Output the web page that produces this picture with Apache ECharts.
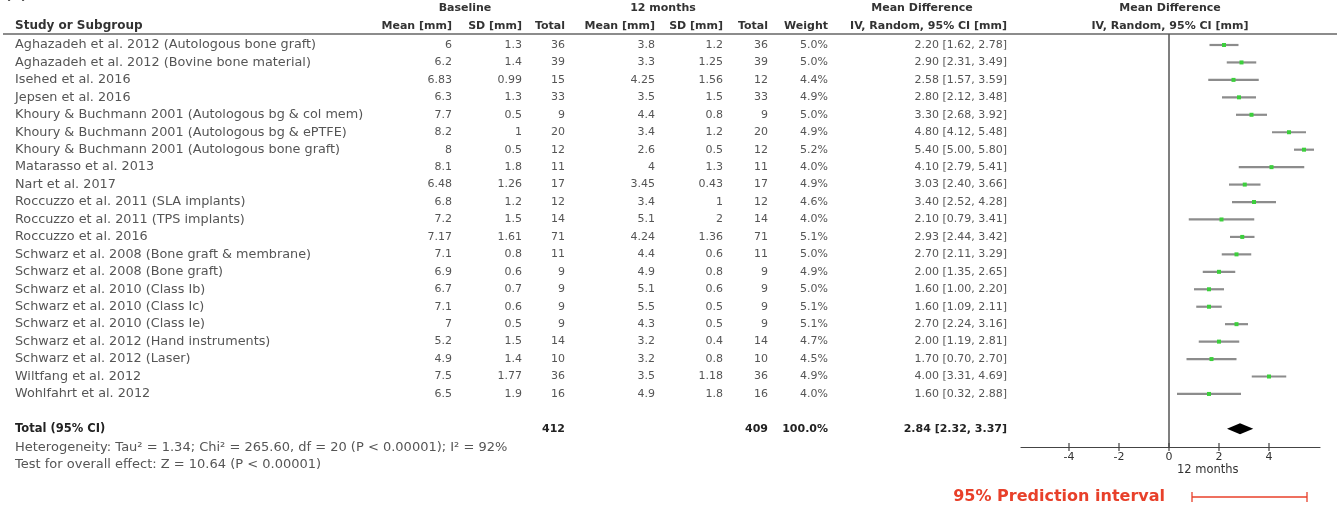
<!DOCTYPE html>
<html>
<head>
<meta charset="utf-8">
<script src="https://cdn.jsdelivr.net/npm/echarts@6/dist/echarts.min.js"></script>
<style>
  html, body { margin: 0; padding: 0; background: #fff; }
  #main { width: 1337px; height: 507px; }
</style>
</head>
<body>
<div id="main"></div>
<script>
// study rows
var studies = [
  'Aghazadeh et al. 2012 (Autologous bone graft)',
  'Aghazadeh et al. 2012 (Bovine bone material)',
  'Isehed et al. 2016',
  'Jepsen et al. 2016',
  'Khoury & Buchmann 2001 (Autologous bg & col mem)',
  'Khoury & Buchmann 2001 (Autologous bg & ePTFE)',
  'Khoury & Buchmann 2001 (Autologous bone graft)',
  'Matarasso et al. 2013',
  'Nart et al. 2017',
  'Roccuzzo et al. 2011 (SLA implants)',
  'Roccuzzo et al. 2011 (TPS implants)',
  'Roccuzzo et al. 2016',
  'Schwarz et al. 2008 (Bone graft & membrane)',
  'Schwarz et al. 2008 (Bone graft)',
  'Schwarz et al. 2010 (Class Ib)',
  'Schwarz et al. 2010 (Class Ic)',
  'Schwarz et al. 2010 (Class Ie)',
  'Schwarz et al. 2012 (Hand instruments)',
  'Schwarz et al. 2012 (Laser)',
  'Wiltfang et al. 2012',
  'Wohlfahrt et al. 2012'
];
var baseMean = [6, 6.2, 6.83, 6.3, 7.7, 8.2, 8, 8.1, 6.48, 6.8, 7.2, 7.17, 7.1, 6.9, 6.7, 7.1, 7, 5.2, 4.9, 7.5, 6.5];
var baseSD   = [1.3, 1.4, 0.99, 1.3, 0.5, 1, 0.5, 1.8, 1.26, 1.2, 1.5, 1.61, 0.8, 0.6, 0.7, 0.6, 0.5, 1.5, 1.4, 1.77, 1.9];
var baseN    = [36, 39, 15, 33, 9, 20, 12, 11, 17, 12, 14, 71, 11, 9, 9, 9, 9, 14, 10, 36, 16];
var m12Mean  = [3.8, 3.3, 4.25, 3.5, 4.4, 3.4, 2.6, 4, 3.45, 3.4, 5.1, 4.24, 4.4, 4.9, 5.1, 5.5, 4.3, 3.2, 3.2, 3.5, 4.9];
var m12SD    = [1.2, 1.25, 1.56, 1.5, 0.8, 1.2, 0.5, 1.3, 0.43, 1, 2, 1.36, 0.6, 0.8, 0.6, 0.5, 0.5, 0.4, 0.8, 1.18, 1.8];
var m12N     = [36, 39, 12, 33, 9, 20, 12, 11, 17, 12, 14, 71, 11, 9, 9, 9, 9, 14, 10, 36, 16];
var weights  = [5.0, 5.0, 4.4, 4.9, 5.0, 4.9, 5.2, 4.0, 4.9, 4.6, 4.0, 5.1, 5.0, 4.9, 5.0, 5.1, 5.1, 4.7, 4.5, 4.9, 4.0];
var md       = [2.20, 2.90, 2.58, 2.80, 3.30, 4.80, 5.40, 4.10, 3.03, 3.40, 2.10, 2.93, 2.70, 2.00, 1.60, 1.60, 2.70, 2.00, 1.70, 4.00, 1.60];
var ciLow    = [1.62, 2.31, 1.57, 2.12, 2.68, 4.12, 5.00, 2.79, 2.40, 2.52, 0.79, 2.44, 2.11, 1.35, 1.00, 1.09, 2.24, 1.19, 0.70, 3.31, 0.32];
var ciHigh   = [2.78, 3.49, 3.59, 3.48, 3.92, 5.48, 5.80, 5.41, 3.66, 4.28, 3.41, 3.42, 3.29, 2.65, 2.20, 2.11, 3.16, 2.81, 2.70, 4.69, 2.88];

// total row
var totalBaseN = 412;
var totalM12N = 409;
var totalWeight = 100.0;
var totalMD = [2.84, 2.32, 3.37];   // estimate, low, high
var predInterval = [0.92, 5.52];

var xTicks = [-4, -2, 0, 2, 4];

var FONT = '11px "DejaVu Sans"';
var NAMEFONT = '12.8px "DejaVu Sans"';
var FOOTFONT = '13px "DejaVu Sans"';
var BOLD = 'bold 11px "DejaVu Sans"';
var GREY = '#555';
var DARK = '#222';

// column layout (pixels)
var cols = [
  { x: 15, a: 'left' },
  { x: 452, a: 'right' },
  { x: 522, a: 'right' },
  { x: 565, a: 'right' },
  { x: 655, a: 'right' },
  { x: 723, a: 'right' },
  { x: 768, a: 'right' },
  { x: 828, a: 'right' },
  { x: 1007, a: 'right' }
];

function ciText(m, l, h) {
  return m.toFixed(2) + ' [' + l.toFixed(2) + ', ' + h.toFixed(2) + ']';
}

function hdr(text, x, y, align) {
  return { type: 'text', x: x, y: y, style: { text: text, font: BOLD, fill: '#333', align: align, verticalAlign: 'middle' } };
}

var rows = studies.map(function (s, i) { return [0, i]; });
var TOTAL_ROW = studies.length + 1;

var myChart = echarts.init(document.getElementById('main'));

var option = {
  animation: false,
  backgroundColor: '#fff',
  grid: { left: 1021, top: 34, width: 299, height: 413 },
  xAxis: {
    type: 'value',
    min: -5.92,
    max: 6.04,
    splitLine: { show: false },
    axisLine: { show: true, onZero: false, lineStyle: { color: '#444', width: 1.2 } },
    axisTick: { show: false },
    axisLabel: { customValues: xTicks, color: '#333', fontFamily: 'DejaVu Sans', fontSize: 11, margin: 5 }
  },
  yAxis: {
    type: 'value',
    inverse: true,
    min: -0.63,
    max: 23.04,
    show: false
  },
  graphic: [
    { type: 'text', left: 5, top: -12, style: { text: '(a) PD reduction', font: 'bold 14px "DejaVu Sans"', fill: '#222' } },
    hdr('Baseline', 465, 8, 'center'),
    hdr('12 months', 663, 8, 'center'),
    hdr('Mean Difference', 922, 8, 'center'),
    hdr('Mean Difference', 1170, 8, 'center'),
    { type: 'text', x: 15, y: 26, style: { text: 'Study or Subgroup', font: 'bold 12px "DejaVu Sans"', fill: '#333', align: 'left', verticalAlign: 'middle' } },
    hdr('Mean [mm]', 452, 26, 'right'),
    hdr('SD [mm]', 522, 26, 'right'),
    hdr('Total', 565, 26, 'right'),
    hdr('Mean [mm]', 655, 26, 'right'),
    hdr('SD [mm]', 723, 26, 'right'),
    hdr('Total', 768, 26, 'right'),
    hdr('Weight', 828, 26, 'right'),
    hdr('IV, Random, 95% CI [mm]', 1007, 26, 'right'),
    hdr('IV, Random, 95% CI [mm]', 1170, 26, 'center'),
    { type: 'line', shape: { x1: 3, y1: 34, x2: 1337, y2: 34 }, style: { stroke: '#666', lineWidth: 1.5 } },
    // footer
    { type: 'text', x: 15, y: 448, style: { text: 'Heterogeneity: Tau² = 1.34; Chi² = 265.60, df = 20 (P < 0.00001); I² = 92%', font: FOOTFONT, fill: GREY, verticalAlign: 'middle' } },
    { type: 'text', x: 15, y: 465, style: { text: 'Test for overall effect: Z = 10.64 (P < 0.00001)', font: FOOTFONT, fill: GREY, verticalAlign: 'middle' } },
    { type: 'text', x: 1177, y: 470, style: { text: '12 months', font: '11.5px "DejaVu Sans"', fill: '#333', verticalAlign: 'middle' } },
    { type: 'text', x: 1165, y: 497, style: { text: '95% Prediction interval', font: 'bold 16px "DejaVu Sans"', fill: '#e8402a', align: 'right', verticalAlign: 'middle' } }
  ],
  series: [
    {
      // table text
      type: 'custom',
      coordinateSystem: 'cartesian2d',
      silent: true,
      data: rows,
      renderItem: function (params, api) {
        var i = params.dataIndex;
        var y = api.coord([0, api.value(1)])[1];
        var vals = [
          studies[i], String(baseMean[i]), String(baseSD[i]), String(baseN[i]),
          String(m12Mean[i]), String(m12SD[i]), String(m12N[i]),
          weights[i].toFixed(1) + '%', ciText(md[i], ciLow[i], ciHigh[i])
        ];
        return {
          type: 'group',
          children: vals.map(function (t, k) {
            return { type: 'text', style: { text: t, x: cols[k].x, y: y, align: cols[k].a, verticalAlign: 'middle', font: k === 0 ? NAMEFONT : FONT, fill: GREY } };
          })
        };
      }
    },
    {
      // total row text
      type: 'custom',
      coordinateSystem: 'cartesian2d',
      silent: true,
      data: [[0, TOTAL_ROW]],
      renderItem: function (params, api) {
        var y = api.coord([0, api.value(1)])[1];
        var cells = [
          [0, 'Total (95% CI)'], [3, String(totalBaseN)], [6, String(totalM12N)],
          [7, totalWeight.toFixed(1) + '%'], [8, ciText(totalMD[0], totalMD[1], totalMD[2])]
        ];
        return {
          type: 'group',
          children: cells.map(function (c) {
            var col = cols[c[0]];
            return { type: 'text', style: { text: c[1], x: col.x, y: y, align: col.a, verticalAlign: 'middle', font: c[0] === 0 ? 'bold 11.5px "DejaVu Sans"' : BOLD, fill: DARK } };
          })
        };
      }
    },
    {
      // zero line
      type: 'custom',
      coordinateSystem: 'cartesian2d',
      silent: true,
      data: [[0, 0]],
      renderItem: function (params, api) {
        var x = api.coord([api.value(0), 0])[0];
        var cs = params.coordSys;
        return { type: 'line', shape: { x1: x, y1: cs.y, x2: x, y2: cs.y + cs.height }, style: { stroke: '#555', lineWidth: 1.5 } };
      }
    },
    {
      // axis ticks crossing the axis line
      type: 'custom',
      coordinateSystem: 'cartesian2d',
      silent: true,
      clip: false,
      data: xTicks.map(function (v) { return [v, 0]; }),
      renderItem: function (params, api) {
        var x = api.coord([api.value(0), 0])[0];
        var cs = params.coordSys;
        var yb = cs.y + cs.height;
        return { type: 'line', shape: { x1: x, y1: yb - 4, x2: x, y2: yb + 4 }, style: { stroke: '#444', lineWidth: 1.2 } };
      }
    },
    {
      // study CIs
      type: 'custom',
      coordinateSystem: 'cartesian2d',
      silent: true,
      data: md.map(function (m, i) { return [m, i, ciLow[i], ciHigh[i]]; }),
      renderItem: function (params, api) {
        var row = api.value(1);
        var p = api.coord([api.value(0), row]);
        var a = api.coord([api.value(2), row]);
        var b = api.coord([api.value(3), row]);
        return {
          type: 'group',
          children: [
            { type: 'line', shape: { x1: a[0], y1: a[1], x2: b[0], y2: b[1] }, style: { stroke: '#8c8c8c', lineWidth: 2.2 } },
            { type: 'rect', shape: { x: p[0] - 2, y: p[1] - 2, width: 4, height: 4 }, style: { fill: '#3ccf3c' } }
          ]
        };
      }
    },
    {
      // pooled diamond
      type: 'custom',
      coordinateSystem: 'cartesian2d',
      silent: true,
      data: [[totalMD[0], TOTAL_ROW, totalMD[1], totalMD[2]]],
      renderItem: function (params, api) {
        var row = api.value(1);
        var c = api.coord([api.value(0), row]);
        var l = api.coord([api.value(2), row]);
        var r = api.coord([api.value(3), row]);
        return {
          type: 'polygon',
          shape: { points: [[l[0], c[1]], [c[0], c[1] - 5.5], [r[0], c[1]], [c[0], c[1] + 5.5]] },
          style: { fill: '#000' }
        };
      }
    },
    {
      // prediction interval
      type: 'custom',
      coordinateSystem: 'cartesian2d',
      silent: true,
      clip: false,
      data: [[predInterval[0], predInterval[1]]],
      renderItem: function (params, api) {
        var a = api.coord([api.value(0), 0]);
        var b = api.coord([api.value(1), 0]);
        var y = 497;
        var red = '#e8402a';
        return {
          type: 'group',
          children: [
            { type: 'line', shape: { x1: a[0], y1: y, x2: b[0], y2: y }, style: { stroke: red, lineWidth: 1.3 } },
            { type: 'line', shape: { x1: a[0], y1: y - 5, x2: a[0], y2: y + 5 }, style: { stroke: red, lineWidth: 1.3 } },
            { type: 'line', shape: { x1: b[0], y1: y - 5, x2: b[0], y2: y + 5 }, style: { stroke: red, lineWidth: 1.3 } }
          ]
        };
      }
    }
  ]
};

myChart.setOption(option);
window.addEventListener('resize', function () {
  myChart.resize();
});
</script>
</body>
</html>
